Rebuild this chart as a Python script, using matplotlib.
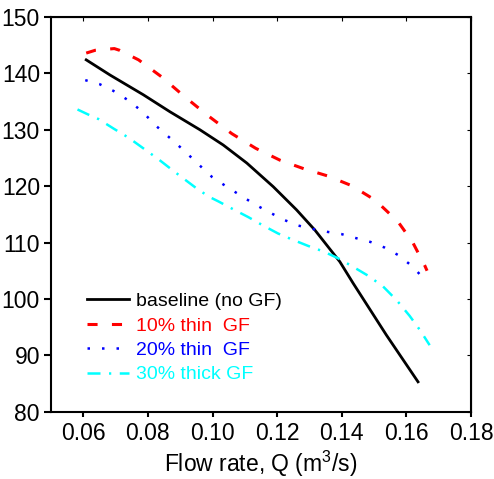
import matplotlib
matplotlib.use("Agg")
import matplotlib.pyplot as plt
import numpy as np

plt.rcParams["font.family"] = ["Liberation Sans", "DejaVu Sans"]
plt.rcParams["mathtext.fontset"] = "custom"
plt.rcParams["mathtext.rm"] = "Liberation Sans"
plt.rcParams["mathtext.it"] = "Liberation Sans:italic"

# baseline (no GF)
q_base = [0.0609, 0.0683, 0.0786, 0.0868, 0.0961, 0.1033, 0.1106, 0.1188,
          0.1260, 0.1317, 0.1394, 0.1435, 0.1538, 0.1636]
h_base = [142.4, 139.7, 136.2, 133.2, 130.0, 127.3, 124.1, 119.9,
          115.8, 112.2, 106.6, 102.8, 93.6, 85.3]

# 10% thin GF
q_thin10 = [0.0609, 0.0637, 0.0696, 0.0712, 0.0771, 0.0842, 0.0913, 0.0986,
            0.1060, 0.1134, 0.1209, 0.1282, 0.1357, 0.1430, 0.1504, 0.1574,
            0.1619, 0.1657, 0.1664]
h_thin10 = [143.6, 144.1, 144.4, 144.1, 142.4, 139.4, 135.9, 132.5,
            129.3, 126.7, 124.6, 123.1, 121.8, 120.1, 117.5, 113.7,
            110.1, 105.9, 105.0]

# 20% thin GF
q_thin20 = [0.0606, 0.0650, 0.0693, 0.0740, 0.0783, 0.0825, 0.0869, 0.0912,
            0.0956, 0.0999, 0.1044, 0.1088, 0.1133, 0.1178, 0.1222, 0.1266,
            0.1311, 0.1355, 0.1399, 0.1443, 0.1489, 0.1533, 0.1577, 0.1620,
            0.1657]
h_thin20 = [138.8, 138.1, 136.9, 135.2, 133.2, 130.7, 128.5, 126.3,
            123.9, 121.6, 119.9, 118.3, 116.7, 115.3, 114.0, 113.0,
            112.4, 111.9, 111.5, 110.8, 110.1, 109.1, 107.7, 105.7,
            103.4]

# 30% thick GF
q_thick30 = [0.0582, 0.0619, 0.0647, 0.0694, 0.0740, 0.0786, 0.0832, 0.0879,
             0.0953, 0.0990, 0.1018, 0.1064, 0.1111, 0.1157, 0.1203, 0.1248,
             0.1296, 0.1344, 0.1389, 0.1435, 0.1482, 0.1528, 0.1571, 0.1610,
             0.1643, 0.1672]
h_thick30 = [133.6, 132.6, 131.9, 130.2, 128.6, 126.7, 124.8, 122.7,
             119.5, 118.1, 117.3, 115.9, 114.5, 113.0, 111.6, 110.5,
             109.4, 108.4, 107.2, 105.7, 104.1, 102.2, 99.7, 97.0,
             94.4, 91.8]

labels = ["baseline (no GF)", "10% thin  GF", "20% thin  GF", "30% thick GF"]
colors = ["black", "red", "blue", "cyan"]

xticks = [0.06, 0.08, 0.10, 0.12, 0.14, 0.16, 0.18]
yticks = [80, 90, 100, 110, 120, 130, 140, 150]

fig = plt.figure(figsize=(4.94, 4.79), dpi=100)
ax = fig.add_axes([51 / 494, 1 - 411.7 / 479, 420 / 494, 394.7 / 479])

ax.plot(q_base, h_base, color=colors[0], lw=2.0, ls="-", label=labels[0])
ax.plot(q_thin10, h_thin10, color=colors[1], lw=2.2, ls=(0, (3.3, 4.7)),
        label=labels[1])
ax.plot(q_thin20, h_thin20, color=colors[2], lw=1.8, ls=(0, (1, 4.8)),
        label=labels[2])
ax.plot(q_thick30, h_thick30, color=colors[3], lw=1.8,
        ls=(0, (5.2, 3.4, 0.9, 3.4)), label=labels[3])

ax.set_xlim(0.05, 0.18)
ax.set_ylim(80, 150)
ax.set_xticks(xticks)
ax.set_xticklabels([f"{v:.2f}" for v in xticks])
ax.set_yticks(yticks)
ax.tick_params(axis="x", direction="out", length=3.5, width=1.5,
               labelsize=16.5, pad=4)
ax.tick_params(axis="y", direction="out", length=5, width=1.5,
               labelsize=16.5, pad=3)
for sp in ax.spines.values():
    sp.set_linewidth(1.5)

# inward ticks on the top and right frame
top = ax.secondary_xaxis("top")
top.set_xticks(xticks)
top.tick_params(direction="in", length=3, width=0.8, labeltop=False)
right = ax.secondary_yaxis("right")
right.set_yticks(yticks)
right.tick_params(direction="in", length=3, width=0.8, labelright=False)

ax.set_xlabel("Flow rate, Q (m$^3$/s)", fontsize=16.5, labelpad=3)

leg = ax.legend(loc="upper left", bbox_to_anchor=(0.085, 0.302), frameon=False,
                fontsize=14, handlelength=2.2, handletextpad=0.36,
                labelspacing=0.35, borderpad=0, borderaxespad=0)
for txt, c in zip(leg.get_texts(), colors):
    txt.set_color(c)

fig.savefig("out.png", dpi=100)
